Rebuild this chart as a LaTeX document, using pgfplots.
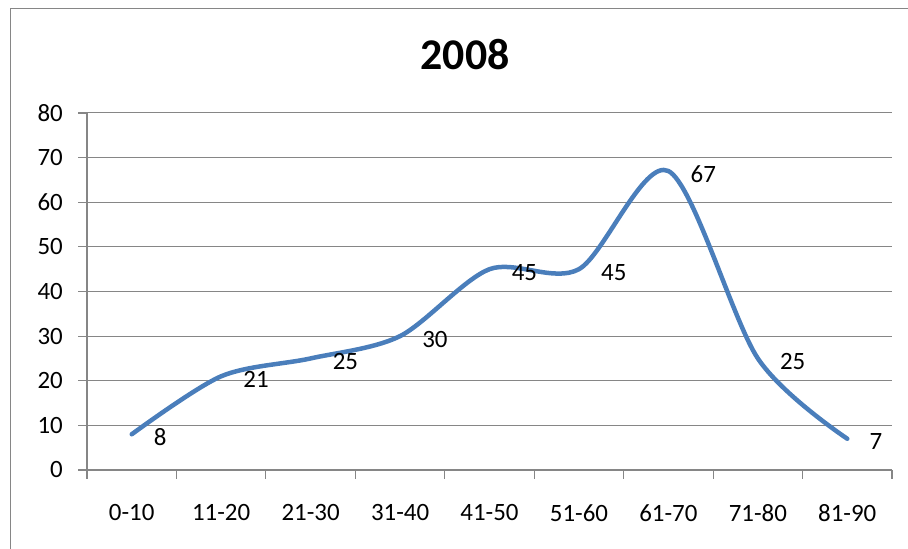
\documentclass[border=0pt]{standalone}
\usepackage{fontspec}
\setmainfont{Carlito}
\usepackage{pgfplots}
\pgfplotsset{compat=1.18}
\definecolor{serie}{HTML}{4A7EBB}
\definecolor{grille}{HTML}{868686}

\begin{document}
\begin{tikzpicture}[x=1bp,y=1bp]
\path[use as bounding box] (0,0) rectangle (908,549);
% chart area border (only left and top show)
\draw[grille, line width=1.2bp] (10.5,0) -- (10.5,540.5) -- (908,540.5);
\node[font=\fontsize{44}{48}\selectfont\bfseries] at (465,494) {2008};

\begin{axis}[
    at={(87bp,79bp)}, anchor=south west,
    scale only axis, width=805bp, height=357bp,
    xmin=-0.5, xmax=8.5, ymin=0, ymax=80,
    axis lines*=left,
    axis line style={grille, line width=1.2bp},
    tick align=outside,
    major tick length=9bp,
    tick style={grille, line width=1.2bp},
    xtick={-0.5,0.5,...,8.5},
    xticklabels={,,},
    extra x ticks={0,...,8},
    extra x tick labels={0-10,11-20,21-30,31-40,41-50,51-60,61-70,71-80,81-90},
    extra x tick style={major tick length=0pt},
    ytick={0,10,...,80},
    ymajorgrids,
    major grid style={grille, line width=1bp},
    /pgf/number format/assume math mode=true,
    ticklabel style={font=\fontsize{25}{29}\selectfont, text=black},
    yticklabel style={anchor=east, inner sep=0pt, xshift=-15bp},
    xticklabel style={anchor=north, inner sep=0pt, yshift=-34bp},
    clip=false,
]
    \addplot[
        serie, line width=4.5bp, smooth, tension=0.5,
        line cap=round, line join=round,
        nodes near coords,
        every node near coord/.append style={
            anchor=west, inner sep=0pt, xshift=20bp, yshift=-3bp,
            font=\fontsize{25}{29}\selectfont, text=black},
    ] coordinates {
        (0,8) (1,21) (2,25) (3,30) (4,45) (5,45) (6,67) (7,25) (8,7)
    };
\end{axis}
\end{tikzpicture}
\end{document}
